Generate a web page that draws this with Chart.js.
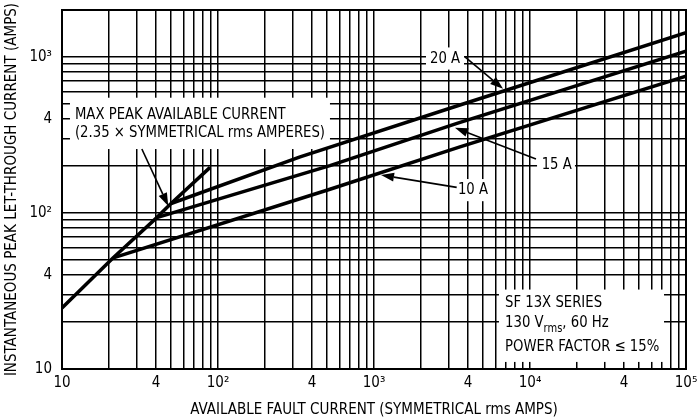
<!DOCTYPE html>
<html>
<head>
<meta charset="utf-8">
<script src="https://cdn.jsdelivr.net/npm/chart.js@4/dist/chart.umd.min.js"></script>
<style>
  html, body { margin: 0; padding: 0; background: #fff; }
  #wrap { width: 697px; height: 419px; position: relative; }
</style>
</head>
<body>
<div id="wrap"><canvas id="c" width="697" height="419"></canvas></div>
<script>
// ---- data (log-log) ----
const maxPeakX = [10, 21.3, 40.5, 50, 89];
const maxPeakY = [24.6, 51.6, 93.4, 115, 196];

const amp10X = [21.3, 522, 3556, 100000];
const amp10Y = [51.6, 142, 265, 753];

const amp15X = [40.5, 522, 3404, 100000];
const amp15Y = [93.4, 201, 375, 1088];

const amp20X = [50, 336, 3556, 100000];
const amp20Y = [115, 229, 492, 1429];

// ---- axis ticks ----
const gridMultipliers = [1, 2, 3, 4, 5, 6, 7, 8, 9];
const xDecades = [10, 100, 1000, 10000];
const yDecades = [10, 100, 1000];
const xMax = 100000;
const yMax = 2000;
const xLabelValues = [10, 40, 100, 400, 1000, 4000, 10000, 40000, 100000];
const xLabelTexts  = ['10', '4', '10²', '4', '10³', '4', '10⁴', '4', '10⁵'];
const yLabelValues = [10, 40, 100, 400, 1000];
const yLabelTexts  = ['10', '4', '10²', '4', '10³'];

const xTitle = 'AVAILABLE FAULT CURRENT (SYMMETRICAL rms AMPS)';
const yTitle = 'INSTANTANEOUS PEAK LET-THROUGH CURRENT (AMPS)';

const FONT = "'DejaVu Sans Condensed', 'Liberation Sans', sans-serif";
const SX = 0.92; // horizontal condensing for annotation text

function gridValues(decades, max) {
  const v = [];
  decades.forEach(d => gridMultipliers.forEach(m => { if (d * m <= max) v.push(d * m); }));
  if (v[v.length - 1] !== max) v.push(max);
  return v;
}
function labelFor(values, texts, val) {
  const i = values.findIndex(v => Math.abs(v - val) / v < 1e-6);
  return i >= 0 ? texts[i] : '';
}
function pts(xs, ys) { return xs.map((x, i) => ({ x, y: ys[i] })); }

// ---- annotations (data coordinates) ----
const whiteBoxes = [
  { x0: 11.25, x1: 522, yTop: 548, yBot: 257 },
  { x0: 2154, x1: 3776, yTop: 1151, yBot: 830 },
  { x0: 11096, x1: 19413, yTop: 239, yBot: 172 },
  { x0: 3258, x1: 5700, yTop: 165, yBot: 119 },
  { x0: 6324, x1: 72300, yTop: 32.3, yBot: 11.1 }
];
const textItems = [
  { x: 12.1, y: 426, t: 'MAX PEAK AVAILABLE CURRENT' },
  { x: 12.1, y: 326, t: '(2.35 × SYMMETRICAL rms AMPERES)' },
  { x: 2286, y: 977, t: '20 A' },
  { x: 11885, y: 204, t: '15 A' },
  { x: 3451, y: 140, t: '10 A' },
  { x: 6918, y: 26.6, t: 'SF 13X SERIES' },
  { x: 6918, y: 13.9, t: 'POWER FACTOR ≤ 15%' }
];
const vrmsItem = { x: 6918, y: 19.8, a: '130 V', sub: 'rms', b: ', 60 Hz' };
const arrows = [
  { x0: 32.5, y0: 257, x1: 48, y1: 111 },
  { x0: 3828, y0: 1000, x1: 6714, y1: 625 },
  { x0: 10920, y0: 222, x1: 3304, y1: 352 },
  { x0: 3389, y0: 146, x1: 1109, y1: 175 }
];

function condensedText(ctx, text, x, y) {
  ctx.save();
  ctx.translate(x, y);
  ctx.scale(SX, 1);
  ctx.fillText(text, 0, 0);
  ctx.restore();
  return ctx.measureText(text).width * SX;
}

const annotPlugin = {
  id: 'annot',
  beforeDatasetsDraw(chart) {
    const { ctx, scales: { x, y } } = chart;
    const X = v => x.getPixelForValue(v), Y = v => y.getPixelForValue(v);
    ctx.save();
    ctx.fillStyle = '#fff';
    whiteBoxes.forEach(b => {
      ctx.fillRect(X(b.x0), Y(b.yTop), X(b.x1) - X(b.x0), Y(b.yBot) - Y(b.yTop));
    });
    ctx.fillStyle = '#000';
    ctx.textBaseline = 'middle';
    ctx.textAlign = 'left';
    ctx.font = '16px ' + FONT;
    textItems.forEach(t => condensedText(ctx, t.t, X(t.x), Y(t.y)));
    // 130 V rms, 60 Hz
    let px = X(vrmsItem.x), py = Y(vrmsItem.y);
    px += condensedText(ctx, vrmsItem.a, px, py);
    ctx.font = '12px ' + FONT;
    px += condensedText(ctx, vrmsItem.sub, px, py + 6);
    ctx.font = '16px ' + FONT;
    condensedText(ctx, vrmsItem.b, px, py);
    ctx.restore();
  },
  afterDatasetsDraw(chart) {
    const { ctx, chartArea: a, scales: { x, y } } = chart;
    const X = v => x.getPixelForValue(v), Y = v => y.getPixelForValue(v);
    ctx.save();
    ctx.strokeStyle = '#000';
    ctx.fillStyle = '#000';
    arrows.forEach(ar => {
      const x0 = X(ar.x0), y0 = Y(ar.y0), x1 = X(ar.x1), y1 = Y(ar.y1);
      const ang = Math.atan2(y1 - y0, x1 - x0);
      const L = 13, W = 4.5;
      const bx = x1 - L * Math.cos(ang), by = y1 - L * Math.sin(ang);
      ctx.lineWidth = 1.6;
      ctx.beginPath(); ctx.moveTo(x0, y0); ctx.lineTo(bx, by); ctx.stroke();
      ctx.beginPath();
      ctx.moveTo(x1, y1);
      ctx.lineTo(bx + W * Math.sin(ang), by - W * Math.cos(ang));
      ctx.lineTo(bx - W * Math.sin(ang), by + W * Math.cos(ang));
      ctx.closePath(); ctx.fill();
    });
    ctx.lineWidth = 2;
    ctx.strokeRect(a.left, a.top, a.right - a.left, a.bottom - a.top);
    ctx.restore();
  }
};

const lineDs = (xs, ys) => ({
  data: pts(xs, ys), borderColor: '#000', borderWidth: 3.5,
  pointRadius: 0, fill: false, tension: 0, borderCapStyle: 'butt', borderJoinStyle: 'round'
});

new Chart(document.getElementById('c'), {
  type: 'line',
  data: {
    datasets: [
      lineDs(maxPeakX, maxPeakY),
      lineDs(amp10X, amp10Y),
      lineDs(amp15X, amp15Y),
      lineDs(amp20X, amp20Y)
    ]
  },
  options: {
    responsive: false,
    animation: false,
    events: [],
    layout: { padding: { top: 10, right: 11, left: 0, bottom: 0 } },
    plugins: { legend: { display: false }, tooltip: { enabled: false } },
    scales: {
      x: {
        type: 'logarithmic', min: 10, max: xMax,
        afterBuildTicks: s => { s.ticks = gridValues(xDecades, xMax).map(v => ({ value: v })); },
        afterFit: s => { s.height = 50; s.paddingLeft = 0; s.paddingRight = 0; },
        grid: { color: '#000', lineWidth: 1.5, drawTicks: false },
        border: { color: '#000', width: 2 },
        ticks: {
          autoSkip: false, maxRotation: 0, minRotation: 0, padding: 5, color: '#000',
          font: { family: FONT, size: 15 },
          callback: v => labelFor(xLabelValues, xLabelTexts, v)
        },
        title: { display: true, text: xTitle, color: '#000', font: { family: FONT, size: 15 }, padding: { top: 0, bottom: 0 } }
      },
      y: {
        type: 'logarithmic', min: 10, max: yMax,
        afterBuildTicks: s => { s.ticks = gridValues(yDecades, yMax).map(v => ({ value: v })); },
        afterFit: s => { s.width = 62; s.paddingTop = 0; s.paddingBottom = 0; },
        grid: { color: '#000', lineWidth: 1.5, drawTicks: false },
        border: { color: '#000', width: 2 },
        ticks: {
          autoSkip: false, padding: 10, color: '#000',
          font: { family: FONT, size: 15 },
          callback: v => labelFor(yLabelValues, yLabelTexts, v)
        },
        title: { display: true, text: yTitle, color: '#000', font: { family: FONT, size: 15 }, padding: { top: 3, bottom: 0 } }
      }
    }
  },
  plugins: [annotPlugin]
});
</script>
</body>
</html>
